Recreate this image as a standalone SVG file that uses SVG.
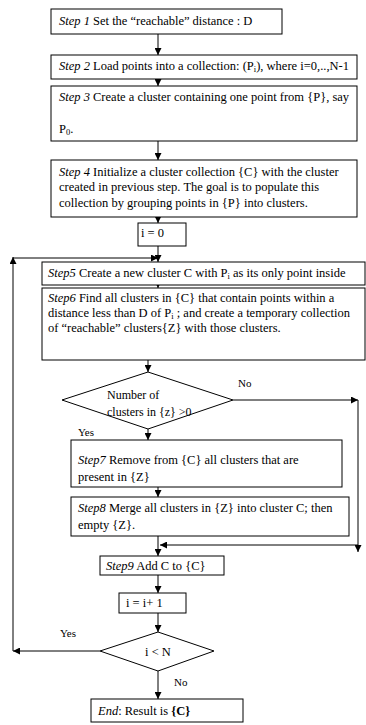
<svg xmlns="http://www.w3.org/2000/svg" width="366" height="725" viewBox="0 0 366 725">
<style>
.box{fill:#fff;stroke:#000;stroke-width:1}
.t{font-family:"Liberation Serif","Times New Roman",serif;font-size:12.5px;fill:#000}
.s{font-family:"Liberation Serif","Times New Roman",serif;font-size:11px;fill:#000}
.d{font-family:"Liberation Serif","Times New Roman",serif;font-size:12px;fill:#000}
.ln{fill:none;stroke:#000;stroke-width:1}
</style>
<defs>
<marker id="ah" viewBox="0 0 8 8" refX="8" refY="4" markerWidth="7" markerHeight="7" markerUnits="userSpaceOnUse" orient="auto">
<path d="M0,0 L8,4 L0,8 z" fill="#000"/>
</marker>
</defs>
<rect width="366" height="725" fill="#fff"/>
<g id="connectors">
<line class="ln" x1="158" y1="34" x2="158" y2="55" marker-end="url(#ah)"/>
<line class="ln" x1="158" y1="79" x2="158" y2="86" marker-end="url(#ah)"/>
<line class="ln" x1="158" y1="141" x2="158" y2="160" marker-end="url(#ah)"/>
<line class="ln" x1="158" y1="217" x2="158" y2="223" marker-end="url(#ah)"/>
<line class="ln" x1="158" y1="246" x2="158" y2="262" marker-end="url(#ah)"/>
<line class="ln" x1="158" y1="285" x2="158" y2="288" marker-end="url(#ah)"/>
<line class="ln" x1="148" y1="360" x2="148" y2="372" marker-end="url(#ah)"/>
<line class="ln" x1="148" y1="429" x2="148" y2="440" marker-end="url(#ah)"/>
<line class="ln" x1="158" y1="487" x2="158" y2="497" marker-end="url(#ah)"/>
<line class="ln" x1="158" y1="536" x2="158" y2="556" marker-end="url(#ah)"/>
<line class="ln" x1="158" y1="575" x2="158" y2="593" marker-end="url(#ah)"/>
<line class="ln" x1="158" y1="613" x2="158" y2="632" marker-end="url(#ah)"/>
<line class="ln" x1="158" y1="671" x2="158" y2="699" marker-end="url(#ah)"/>
<line class="ln" x1="233" y1="400" x2="358" y2="400" marker-end="url(#ah)"/>
<line class="ln" x1="358" y1="400" x2="358" y2="552" marker-end="url(#ah)"/>
<line class="ln" x1="358" y1="545" x2="160" y2="545" marker-end="url(#ah)"/>
<line class="ln" x1="100" y1="651" x2="13" y2="651" marker-end="url(#ah)"/>
<line class="ln" x1="13" y1="651" x2="13" y2="257" marker-end="url(#ah)"/>
<line class="ln" x1="13" y1="258" x2="158" y2="258" marker-end="url(#ah)"/>
<text class="s" x="238" y="387">No</text>
<text class="s" x="78" y="436">Yes</text>
<text class="s" x="60" y="637">Yes</text>
<text class="s" x="174" y="686">No</text>
</g>
<g id="step1">
<rect class="box" x="51" y="9" width="231" height="25"/>
<text class="t" x="59" y="25"><tspan font-style="italic">Step 1</tspan> Set the “reachable” distance : D</text>
</g>
<g id="step2">
<rect class="box" x="51" y="55" width="306" height="24"/>
<text class="t" x="59" y="70"><tspan font-style="italic">Step 2</tspan> Load points into a collection: (P<tspan font-size="8.5" dy="2">i</tspan><tspan dy="-2">), where i=0,..,N-1</tspan></text>
</g>
<g id="step3">
<rect class="box" x="51" y="86" width="306" height="55"/>
<text class="t" x="59" y="101"><tspan font-style="italic">Step 3</tspan> Create a cluster containing one point from {P}, say</text>
<text class="t" x="59" y="133">P<tspan font-size="8.5" dy="2">0</tspan><tspan dy="-2">.</tspan></text>
</g>
<g id="step4">
<rect class="box" x="51" y="160" width="306" height="57"/>
<text class="t" x="59" y="176"><tspan font-style="italic">Step 4</tspan> Initialize a cluster collection {C} with the cluster</text>
<text class="t" x="59" y="191">created in previous step. The goal is to populate this</text>
<text class="t" x="59" y="207">collection by grouping points in {P} into clusters.</text>
</g>
<g id="init">
<rect class="box" x="138" y="223" width="48" height="23"/>
<text class="t" x="141" y="237">i = 0</text>
</g>
<g id="step5">
<rect class="box" x="42" y="262" width="323" height="23"/>
<text class="t" x="48" y="277"><tspan font-style="italic">Step5</tspan> Create a new cluster C with P<tspan font-size="8.5" dy="2">i</tspan><tspan dy="-2"> as its only point inside</tspan></text>
</g>
<g id="step6">
<rect class="box" x="42" y="288" width="323" height="72"/>
<text class="t" x="48" y="302"><tspan font-style="italic">Step6</tspan> Find all clusters in {C} that contain points within a</text>
<text class="t" x="48" y="317">distance less than D of P<tspan font-size="8.5" dy="2">i</tspan><tspan dy="-2"> ; and create a temporary collection</tspan></text>
<text class="t" x="48" y="332">of “reachable” clusters{Z} with those clusters.</text>
</g>
<g id="decision1">
<polygon class="box" points="62,400 148,372 233,400 148,429"/>
<text class="d" x="107" y="399">Number of</text>
<text class="d" x="107" y="416">clusters in {z} &gt;0</text>
</g>
<g id="step7">
<rect class="box" x="71" y="440" width="271" height="47"/>
<text class="t" x="78" y="464"><tspan font-style="italic">Step7</tspan> Remove from {C} all clusters that are</text>
<text class="t" x="78" y="481">present in {Z}</text>
</g>
<g id="step8">
<rect class="box" x="71" y="497" width="278" height="39"/>
<text class="t" x="78" y="512"><tspan font-style="italic">Step8</tspan> Merge all clusters in {Z} into cluster C; then</text>
<text class="t" x="78" y="529">empty {Z}.</text>
</g>
<g id="step9">
<rect class="box" x="100" y="556" width="124" height="19"/>
<text class="t" x="106" y="570"><tspan font-style="italic">Step9</tspan> Add C to {C}</text>
</g>
<g id="incr">
<rect class="box" x="119" y="593" width="67" height="20"/>
<text class="t" x="126" y="607">i = i+ 1</text>
</g>
<g id="decision2">
<polygon class="box" points="100,651 158,632 214,651 158,671"/>
<text class="t" x="158" y="656" text-anchor="middle">i &lt; N</text>
</g>
<g id="end">
<rect class="box" x="91" y="699" width="152" height="23"/>
<text class="t" x="98" y="715"><tspan font-style="italic">End</tspan>: Result is <tspan font-weight="bold">{C}</tspan></text>
</g>
</svg>
